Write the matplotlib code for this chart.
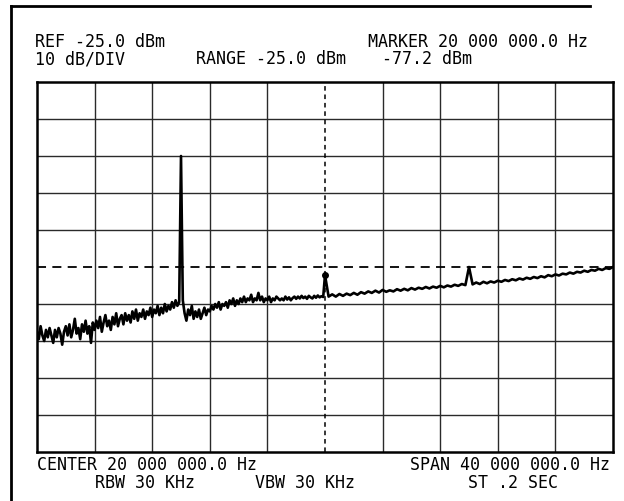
"""Spectrum analyzer screen: 0-40 MHz sweep, ref -25 dBm, 10 dB/div."""

import matplotlib
matplotlib.use("Agg")
import matplotlib.pyplot as plt
from matplotlib.lines import Line2D
import numpy as np

W, H = 624, 501

# ---------------------------------------------------------------------------
# Data
# ---------------------------------------------------------------------------
# 0 - 19.875 MHz, 0.125 MHz steps (noisy low end)
low_step_mhz = 0.125
low_trace_dbm = [
    -92.5, -94.5, -91.0, -93.5, -95.0, -92.0, -94.0, -91.5,   # 0
    -93.5, -95.5, -92.0, -94.0, -91.5, -93.0, -96.0, -92.5,   # 1
    -91.0, -93.5, -90.5, -94.0, -92.0, -89.0, -93.0, -91.5,   # 2
    -94.5, -90.5, -92.5, -89.5, -93.0, -91.0, -95.5, -90.0,   # 3
    -92.0, -89.5, -91.5, -88.5, -92.5, -90.0, -88.0, -91.0,   # 4
    -89.5, -92.0, -88.5, -90.5, -87.5, -91.0, -89.0, -88.0,   # 5
    -90.5, -87.5, -89.5, -88.0, -90.0, -87.0, -89.0, -86.5,   # 6
    -89.5, -87.5, -88.5, -86.5, -89.0, -87.0, -88.0, -86.0,   # 7
    -88.5, -86.5, -87.5, -85.5, -88.0, -86.0, -87.5, -85.0,   # 8
    -87.0, -85.5, -86.5, -84.5, -86.0, -84.0, -85.5, -84.5,   # 9
    -45.0, -84.0, -87.5, -89.5, -86.5, -88.0, -85.5, -89.0,   # 10 (10 MHz line)
    -87.0, -88.5, -86.5, -89.0, -87.5, -86.0, -88.0, -86.5,   # 11
    -87.0, -85.5, -86.5, -85.0, -86.0, -84.5, -86.5, -85.0,   # 12
    -85.5, -84.5, -86.0, -84.0, -85.0, -83.5, -85.5, -84.0,   # 13
    -85.0, -83.5, -84.5, -83.0, -84.5, -83.5, -84.0, -82.5,   # 14
    -84.5, -83.5, -84.0, -82.0, -84.0, -83.0, -84.5, -83.5,   # 15
    -84.0, -83.0, -84.5, -83.5, -84.0, -83.0, -83.5, -84.0,   # 16
    -83.5, -84.0, -83.0, -83.8, -83.2, -84.0, -83.4, -83.0,   # 17
    -83.6, -83.0, -83.5, -82.8, -83.4, -83.0, -83.6, -82.8,   # 18
    -83.2, -83.5, -82.8, -83.3, -82.7, -83.2, -82.9, -83.1,   # 19
]

# 20 - 40 MHz, 0.25 MHz steps
high_start_mhz = 20.0
high_step_mhz = 0.25
high_trace_dbm = [
    -77.2, -83.0, -82.4, -83.0, -82.3, -82.8, -82.2, -82.6,   # 20 - 21.75
    -82.0, -82.5, -81.8, -82.2, -81.6, -82.0, -81.4, -81.9,   # 22 - 23.75
    -81.2, -81.7, -81.3, -81.6, -81.0, -81.4, -80.9, -81.3,   # 24 - 25.75
    -80.7, -81.1, -80.6, -80.9, -80.4, -80.8, -80.3, -80.6,   # 26 - 27.75
    -80.1, -80.5, -80.0, -80.3, -79.8, -80.1, -79.6, -79.9,   # 28 - 29.75
    -75.0, -79.7, -79.2, -79.6, -79.0, -79.4, -78.9, -79.2,   # 30 - 31.75
    -78.7, -79.0, -78.5, -78.8, -78.3, -78.6, -78.1, -78.4,   # 32 - 33.75
    -77.9, -78.2, -77.7, -78.0, -77.5, -77.8, -77.2, -77.5,   # 34 - 35.75
    -77.0, -77.3, -76.8, -77.0, -76.5, -76.8, -76.3, -76.5,   # 36 - 37.75
    -76.0, -76.3, -75.8, -76.0, -75.5, -75.8, -75.3, -75.5,   # 38 - 39.75
    -75.0,                                                    # 40
]

ref_level_dbm = -25.0
db_per_div = 10
span_mhz = 40.0
center_mhz = 20.0
display_line_dbm = -75.0
marker_mhz = 20.0
marker_dbm = -77.2

header_line1 = ["REF -25.0 dBm", "MARKER 20 000 000.0 Hz"]
header_line2 = ["10 dB/DIV", "RANGE -25.0 dBm", "-77.2 dBm"]
footer_line1 = ["CENTER 20 000 000.0 Hz", "SPAN 40 000 000.0 Hz"]
footer_line2 = ["RBW 30 KHz", "VBW 30 KHz", "ST .2 SEC"]

# ---------------------------------------------------------------------------
# Figure
# ---------------------------------------------------------------------------
plt.rcParams["font.family"] = ["DejaVu Sans Mono"]

fig = plt.figure(figsize=(W / 100, H / 100), dpi=100)
fig.patch.set_facecolor("white")


def px(x, y):
    """pixel (from top-left) -> figure fraction"""
    return x / W, 1 - y / H


left, right, top, bottom = 37, 613, 82, 452
ax = fig.add_axes([left / W, 1 - bottom / H, (right - left) / W, (bottom - top) / H])

freqs_low = np.arange(len(low_trace_dbm)) * low_step_mhz
freqs_high = high_start_mhz + np.arange(len(high_trace_dbm)) * high_step_mhz
freqs = np.concatenate([freqs_low, freqs_high])
trace = np.concatenate([low_trace_dbm, high_trace_dbm])

y_bottom = ref_level_dbm - 10 * db_per_div

ax.set_xlim(0, span_mhz)
ax.set_ylim(y_bottom, ref_level_dbm)
ax.set_xticks([])
ax.set_yticks([])
for s in ax.spines.values():
    s.set_linewidth(1.8)
    s.set_color("black")

# graticule
for xg in np.arange(0, span_mhz + 0.1, span_mhz / 10)[1:-1]:
    if abs(xg - center_mhz) < 1e-6:
        continue
    ax.axvline(xg, color="#2a2a2a", lw=1.0, zorder=1)
for yg in np.arange(y_bottom, ref_level_dbm + 0.1, db_per_div)[1:-1]:
    if abs(yg - display_line_dbm) < 1e-6:
        continue
    ax.axhline(yg, color="#2a2a2a", lw=1.0, zorder=1)

# center line and display line
ax.axvline(center_mhz, color="black", lw=1.1, ls=(0, (3, 2.5)), zorder=2)
ax.axhline(display_line_dbm, color="black", lw=1.3, ls=(0, (5, 3.5)), zorder=2)

# trace + marker
ax.plot(freqs, trace, color="black", lw=1.9, zorder=3)
ax.plot([marker_mhz], [marker_dbm], "o", color="black", ms=4, zorder=4)

# outer frame of the printout
fig.add_artist(Line2D([11 / W, 11 / W], [0, 1 - 6 / H], color="black", lw=2.0))
fig.add_artist(Line2D([11 / W, 590 / W], [1 - 6 / H, 1 - 6 / H], color="black", lw=2.0))

# header / footer text
fs = 12
kw = dict(fontsize=fs, color="black", va="center")
fig.text(*px(35, 42), header_line1[0], ha="left", **kw)
fig.text(*px(588, 42), header_line1[1], ha="right", **kw)
fig.text(*px(35, 59), header_line2[0], ha="left", **kw)
fig.text(*px(196, 59), header_line2[1], ha="left", **kw)
fig.text(*px(472, 59), header_line2[2], ha="right", **kw)

fig.text(*px(37, 465), footer_line1[0], ha="left", **kw)
fig.text(*px(610, 465), footer_line1[1], ha="right", **kw)
fig.text(*px(145, 483), footer_line2[0], ha="center", **kw)
fig.text(*px(305, 483), footer_line2[1], ha="center", **kw)
fig.text(*px(558, 483), footer_line2[2], ha="right", **kw)

fig.savefig("out.png", dpi=100)
